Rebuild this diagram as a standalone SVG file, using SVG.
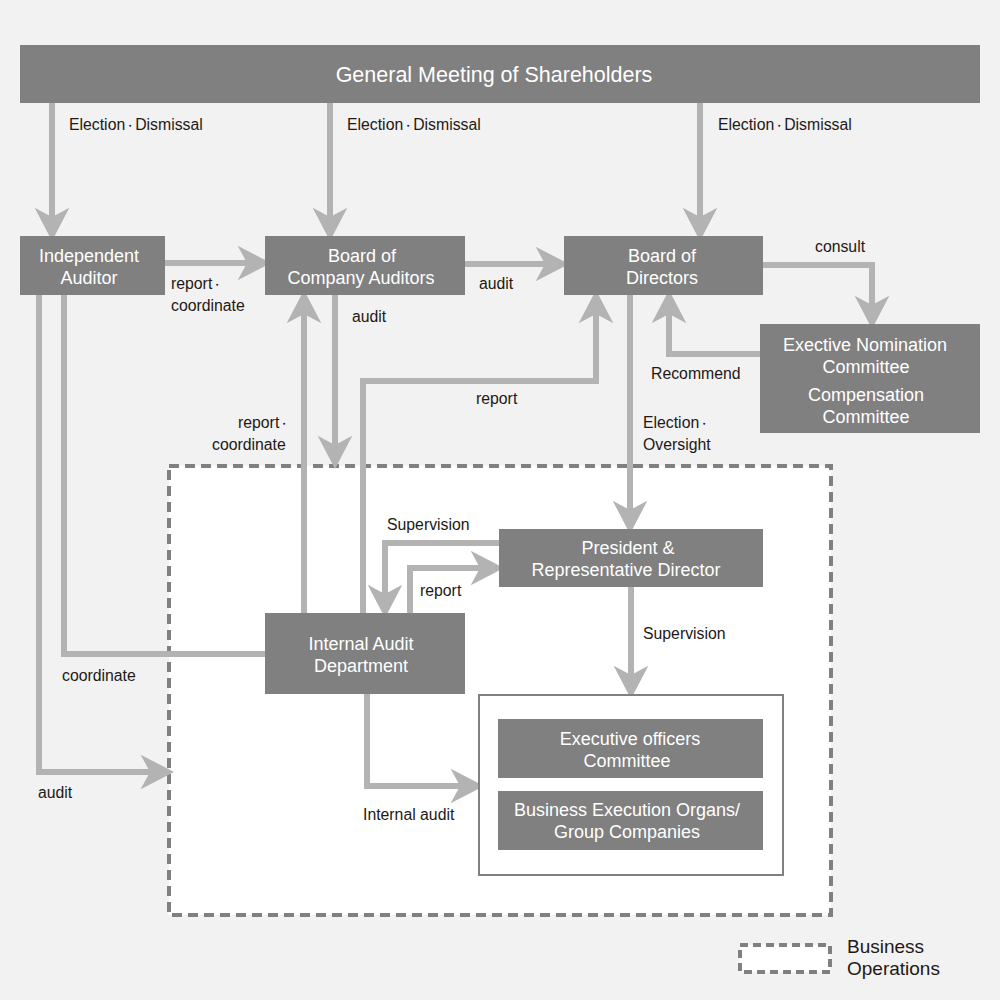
<svg xmlns="http://www.w3.org/2000/svg" width="1000" height="1000" viewBox="0 0 1000 1000">
<defs>
<style>
.node{fill:#808080}
.nt{fill:#ffffff;font-family:"Liberation Sans",Arial,sans-serif;font-size:18px;text-anchor:middle;dominant-baseline:central}
.lb{fill:#231815;font-family:"Liberation Sans",Arial,sans-serif;font-size:15.8px}
.dot{font-size:12px}
.cn{fill:none;stroke:#b3b3b3;stroke-width:6;stroke-linejoin:miter;marker-end:url(#ah)}
.cn0{fill:none;stroke:#b3b3b3;stroke-width:6;stroke-linejoin:miter}
.dash{fill:#ffffff;stroke:#808080;stroke-width:4;stroke-dasharray:10 6}
</style>
<marker id="ah" markerUnits="userSpaceOnUse" markerWidth="40" markerHeight="40" viewBox="-10 -15 30 30" refX="0" refY="0" orient="auto" overflow="visible">
<path d="M0,0 L-7,-13 L18,0 L-7,13 Z" fill="#b3b3b3"/>
</marker>
</defs>
<rect width="1000" height="1000" fill="#f2f2f2"/>
<g id="business-operations">
<rect class="dash" x="169" y="466" width="662" height="449"/>
</g>
<g id="connectors">
<path class="cn" d="M52,103 V217"/>
<path class="cn" d="M330,103 V217"/>
<path class="cn" d="M700,103 V217"/>
<path class="cn" d="M165,263 H247"/>
<path class="cn" d="M465,264 H545"/>
<path class="cn" d="M763,265 H872 V305"/>
<path class="cn" d="M760,354 H669 V314"/>
<path class="cn" d="M630,295 V510"/>
<path class="cn" d="M363,613 V381 H596 V314"/>
<path class="cn" d="M335,295 V445"/>
<path class="cn" d="M304,613 V314"/>
<path class="cn" d="M499,543 H385 V594"/>
<path class="cn" d="M410,613 V568 H480"/>
<path class="cn" d="M39,295 V772 H150"/>
<path class="cn0" d="M64,295 V654 H265"/>
<path class="cn" d="M631,587 V675"/>
<path class="cn" d="M367,694 V786 H460"/>
</g>
<g id="labels">
<text class="lb" x="69" y="130">Election<tspan class="dot" dx="-1">・</tspan><tspan dx="-1">Dismissal</tspan></text>
<text class="lb" x="347" y="130">Election<tspan class="dot" dx="-1">・</tspan><tspan dx="-1">Dismissal</tspan></text>
<text class="lb" x="718" y="130">Election<tspan class="dot" dx="-1">・</tspan><tspan dx="-1">Dismissal</tspan></text>
<text class="lb" x="171" y="289">report<tspan class="dot" dx="-1">・</tspan></text>
<text class="lb" x="171" y="311">coordinate</text>
<text class="lb" x="479" y="289">audit</text>
<text class="lb" x="815" y="252">consult</text>
<text class="lb" x="651" y="379">Recommend</text>
<text class="lb" x="352" y="322">audit</text>
<text class="lb" x="476" y="404">report</text>
<text class="lb" x="238" y="428">report<tspan class="dot" dx="-1">・</tspan></text>
<text class="lb" x="212" y="450">coordinate</text>
<text class="lb" x="643" y="428">Election<tspan class="dot" dx="-1">・</tspan></text>
<text class="lb" x="643" y="450">Oversight</text>
<text class="lb" x="387" y="530">Supervision</text>
<text class="lb" x="420" y="596">report</text>
<text class="lb" x="643" y="639">Supervision</text>
<text class="lb" x="62" y="681">coordinate</text>
<text class="lb" x="38" y="798">audit</text>
<text class="lb" x="363" y="820">Internal audit</text>
</g>
<g id="gms">
<rect class="node" x="20" y="45" width="960" height="58"/>
<text class="nt" x="494" y="75" style="font-size:21.5px">General Meeting of Shareholders</text>
</g>
<g id="independent-auditor">
<rect class="node" x="20" y="236" width="145" height="59"/>
<text class="nt" x="89" y="256">Independent</text>
<text class="nt" x="89" y="278">Auditor</text>
</g>
<g id="board-company-auditors">
<rect class="node" x="265" y="236" width="200" height="59"/>
<text class="nt" x="362" y="256">Board of</text>
<text class="nt" x="361" y="278">Company Auditors</text>
</g>
<g id="board-directors">
<rect class="node" x="564" y="236" width="199" height="59"/>
<text class="nt" x="662" y="256">Board of</text>
<text class="nt" x="662" y="278">Directors</text>
</g>
<g id="nomination-compensation">
<rect class="node" x="760" y="324" width="220" height="109"/>
<text class="nt" x="865" y="345">Exective Nomination</text>
<text class="nt" x="866" y="367">Committee</text>
<text class="nt" x="866" y="395">Compensation</text>
<text class="nt" x="866" y="417">Committee</text>
</g>
<g id="president">
<rect class="node" x="499" y="529" width="264" height="58"/>
<text class="nt" x="628" y="548">President &amp;</text>
<text class="nt" x="626" y="570">Representative Director</text>
</g>
<g id="internal-audit">
<rect class="node" x="265" y="613" width="200" height="81"/>
<text class="nt" x="361" y="644">Internal Audit</text>
<text class="nt" x="361" y="666">Department</text>
</g>
<g id="execution-group">
<rect x="479" y="695" width="304" height="180" fill="#ffffff" stroke="#808080" stroke-width="2"/>
</g>
<g id="executive-officers">
<rect class="node" x="498" y="719" width="265" height="59"/>
<text class="nt" x="630" y="739">Executive officers</text>
<text class="nt" x="627" y="761">Committee</text>
</g>
<g id="business-execution">
<rect class="node" x="498" y="791" width="265" height="59"/>
<text class="nt" x="627" y="810">Business Execution Organs/</text>
<text class="nt" x="627" y="832">Group Companies</text>
</g>
<g id="legend">
<rect x="740" y="945" width="90" height="27" fill="#ffffff" stroke="#808080" stroke-width="4" stroke-dasharray="8 5"/>
<text class="lb" x="847" y="946" style="font-size:19px;dominant-baseline:central">Business</text>
<text class="lb" x="847" y="968" style="font-size:19px;dominant-baseline:central">Operations</text>
</g>
</svg>
